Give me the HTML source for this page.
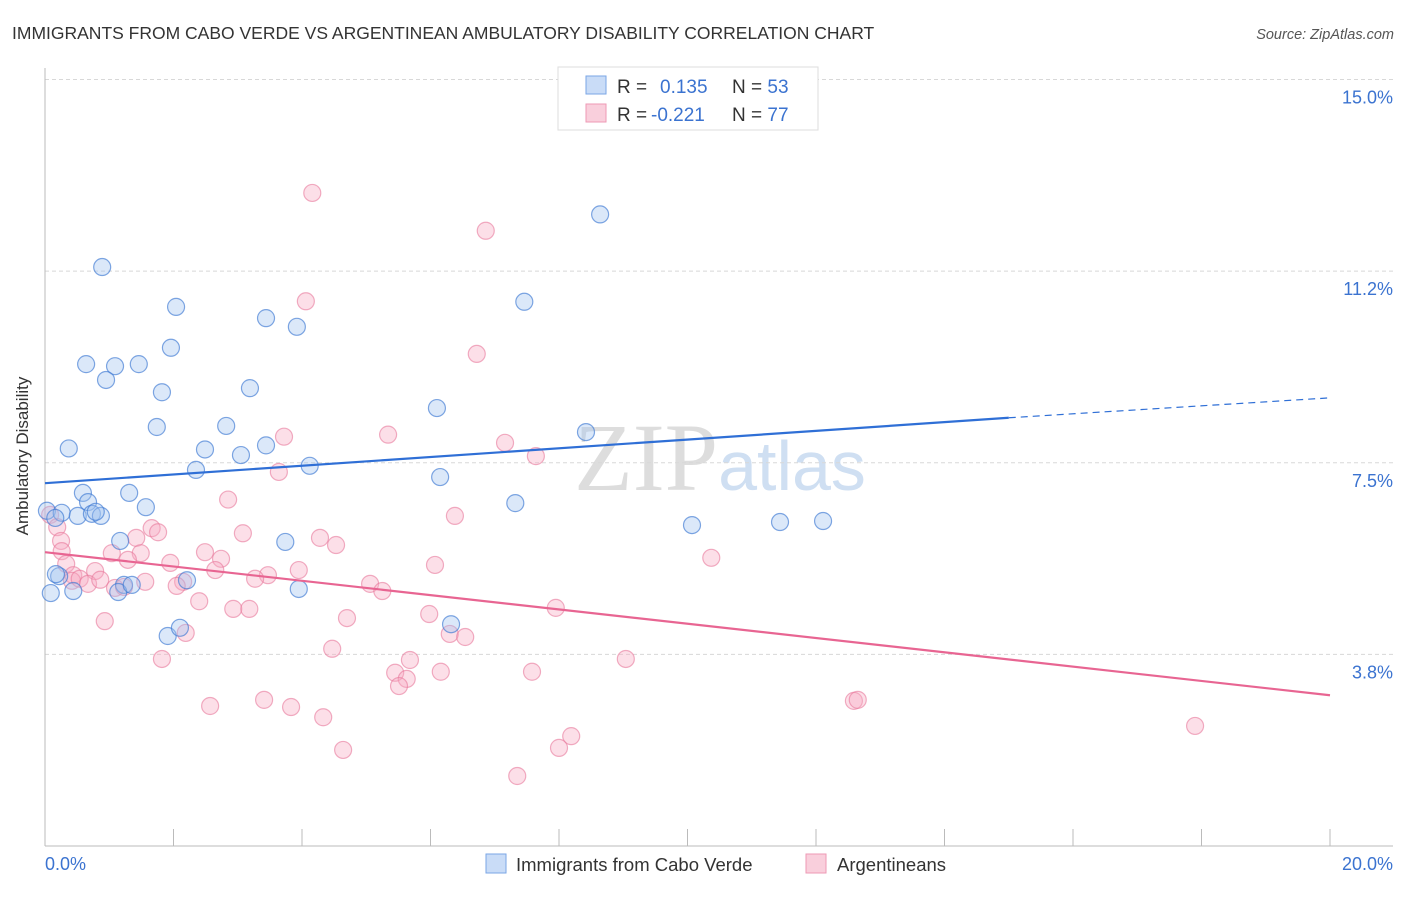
<!DOCTYPE html>
<html><head><meta charset="utf-8"><style>
body{margin:0;background:#fff;font-family:"Liberation Sans",sans-serif;}
</style></head><body>
<svg width="1406" height="892" viewBox="0 0 1406 892" xmlns="http://www.w3.org/2000/svg">
<text x="12" y="39" font-size="17.5" fill="#333">IMMIGRANTS FROM CABO VERDE VS ARGENTINEAN AMBULATORY DISABILITY CORRELATION CHART</text>
<text x="1394" y="39" font-size="14.5" fill="#555" font-style="italic" text-anchor="end">Source: ZipAtlas.com</text>
<text x="720" y="490" font-size="96" fill="#ddd" text-anchor="middle" font-family="Liberation Serif,serif">ZIP<tspan fill="#cfdff2" font-family="Liberation Sans,sans-serif" font-size="70">atlas</tspan></text>
<g id="grid"></g>
<line x1="45" y1="68" x2="45" y2="846" stroke="#bbb"/>
<line x1="45" y1="846" x2="1393" y2="846" stroke="#bbb"/>
<text x="28" y="456" font-size="17" fill="#333" text-anchor="middle" transform="rotate(-90 28 456)">Ambulatory Disability</text>
<text x="45" y="870" font-size="18" fill="#3b73d0">0.0%</text>
<text x="1393" y="870" font-size="18" fill="#3b73d0" text-anchor="end">20.0%</text>
<g id="marks"></g>
<g>
<rect x="558" y="67" width="260" height="63" fill="#fff" stroke="#ddd"/>
<rect x="586" y="76" width="20" height="18" fill="#c9dcf7" stroke="#7aa6e6"/>
<rect x="586" y="104" width="20" height="18" fill="#f9cfdc" stroke="#ee9ab5"/>
<text x="617" y="93" font-size="19" fill="#333">R = <tspan fill="#3b73d0" x="660">0.135</tspan><tspan x="732">N = </tspan><tspan fill="#3b73d0">53</tspan></text>
<text x="617" y="121" font-size="19" fill="#333">R = <tspan fill="#3b73d0" x="651">-0.221</tspan><tspan x="732">N = </tspan><tspan fill="#3b73d0">77</tspan></text>
</g>
<g>
<rect x="486" y="854" width="20" height="19" fill="#c9dcf7" stroke="#7aa6e6"/>
<text x="516" y="871" font-size="18.5" fill="#333">Immigrants from Cabo Verde</text>
<rect x="806" y="854" width="20" height="19" fill="#f9cfdc" stroke="#ee9ab5"/>
<text x="837" y="871" font-size="18.5" fill="#333">Argentineans</text>
</g>
</svg>
<script>
const yTicks=[15.0,11.25,7.5,3.75];
const yTickLabels=["15.0%","11.2%","7.5%","3.8%"];
const xTicks=[0,2,4,6,8,10,12,14,16,18,20];
const blueX=[8.64,0.89,7.46,2.04,3.44,3.92,1.96,0.64,1.09,1.46,0.95,1.82,3.19,6.10,1.74,2.82,8.42,0.37,2.49,3.05,3.44,4.12,2.35,6.15,0.59,1.31,7.32,0.67,1.57,0.03,0.26,0.16,0.51,0.73,0.87,0.79,10.07,11.44,12.11,1.17,3.74,0.22,2.21,1.23,0.44,0.09,1.14,6.32,1.91,1.35,3.95,2.10,0.17];
const blueY=[12.36,11.33,10.65,10.55,10.33,10.16,9.75,9.43,9.39,9.43,9.12,8.88,8.96,8.57,8.20,8.22,8.10,7.78,7.76,7.65,7.84,7.44,7.36,7.22,6.91,6.91,6.71,6.73,6.63,6.56,6.52,6.42,6.46,6.50,6.46,6.54,6.28,6.34,6.36,5.97,5.95,5.28,5.20,5.11,4.99,4.95,4.97,4.34,4.11,5.11,5.03,4.27,5.32];
const pinkX=[4.16,6.86,4.06,6.72,3.72,5.34,7.16,7.64,3.64,2.85,6.38,0.08,0.19,1.66,1.76,3.08,1.42,4.28,4.53,0.25,0.26,1.04,1.49,2.49,2.74,1.95,1.29,0.33,0.44,0.78,2.65,3.95,3.47,6.07,10.37,2.15,2.05,0.42,0.54,0.67,0.86,3.27,5.06,5.25,1.09,1.23,1.56,2.40,2.93,3.18,7.95,5.98,4.70,0.93,6.30,6.54,2.19,4.47,1.82,5.68,9.04,5.45,6.16,7.58,5.63,5.51,12.59,12.65,3.41,2.57,3.83,4.33,17.90,8.19,8.00,4.64,7.35];
const pinkY=[12.78,12.04,10.66,9.63,8.01,8.05,7.89,7.63,7.32,6.78,6.46,6.48,6.24,6.22,6.14,6.12,6.03,6.03,5.89,5.97,5.77,5.73,5.73,5.75,5.62,5.54,5.60,5.52,5.30,5.38,5.40,5.40,5.30,5.50,5.64,5.17,5.09,5.19,5.23,5.13,5.21,5.23,5.13,4.99,5.05,5.07,5.17,4.79,4.64,4.64,4.66,4.54,4.46,4.40,4.15,4.09,4.17,3.86,3.66,3.64,3.66,3.39,3.41,3.41,3.27,3.13,2.84,2.86,2.86,2.74,2.72,2.52,2.35,2.15,1.92,1.88,1.37];
const blueTrend=[0,7.1,15,8.38,20,8.77];
const pinkTrend=[0,5.75,20,2.95];
const X0=45,X1=1330,Y0=846,PY=51.1;
const sx=v=>X0+(X1-X0)*v/20;
const sy=v=>Y0-v*PY;
const NS="http://www.w3.org/2000/svg";
function mk(t,a,p){const e=document.createElementNS(NS,t);for(const k in a)e.setAttribute(k,a[k]);p.appendChild(e);return e;}
const grid=document.getElementById('grid'),marks=document.getElementById('marks');
yTicks.forEach((v,i)=>{
 const l=mk('line',{x1:45,x2:1393,y1:sy(v),y2:sy(v),stroke:'#d8d8d8','stroke-dasharray':'4 3'},grid);
 
 
 const t=mk('text',{x:1393,y:sy(v)+24,'font-size':18,fill:'#3b73d0','text-anchor':'end'},grid);
 t.textContent=yTickLabels[i];
 
 
});
xTicks.forEach(v=>{
 const l=mk('line',{x1:sx(v),x2:sx(v),y1:829,y2:846,stroke:'#bbb'},grid);
 
 
});
pinkX.forEach((v,i)=>{
 const c=mk('circle',{cx:sx(v),cy:sy(pinkY[i]),r:8.5,fill:'rgba(246,170,195,0.38)',stroke:'rgba(232,120,155,0.6)','stroke-width':1.2},marks);
 
 
});
blueX.forEach((v,i)=>{
 const c=mk('circle',{cx:sx(v),cy:sy(blueY[i]),r:8.5,fill:'rgba(160,195,240,0.38)',stroke:'rgba(60,120,210,0.65)','stroke-width':1.2},marks);
 
 
});
let l=mk('line',{x1:sx(blueTrend[0]),y1:sy(blueTrend[1]),x2:sx(blueTrend[2]),y2:sy(blueTrend[3]),stroke:'#2f6fd6','stroke-width':2.2},marks);


l=mk('line',{x1:sx(blueTrend[2]),y1:sy(blueTrend[3]),x2:sx(blueTrend[4]),y2:sy(blueTrend[5]),stroke:'#2f6fd6','stroke-width':1.2,'stroke-dasharray':'7 5'},marks);


l=mk('line',{x1:sx(pinkTrend[0]),y1:sy(pinkTrend[1]),x2:sx(pinkTrend[2]),y2:sy(pinkTrend[3]),stroke:'#e86592','stroke-width':2.2},marks);


</script>
</body></html>
